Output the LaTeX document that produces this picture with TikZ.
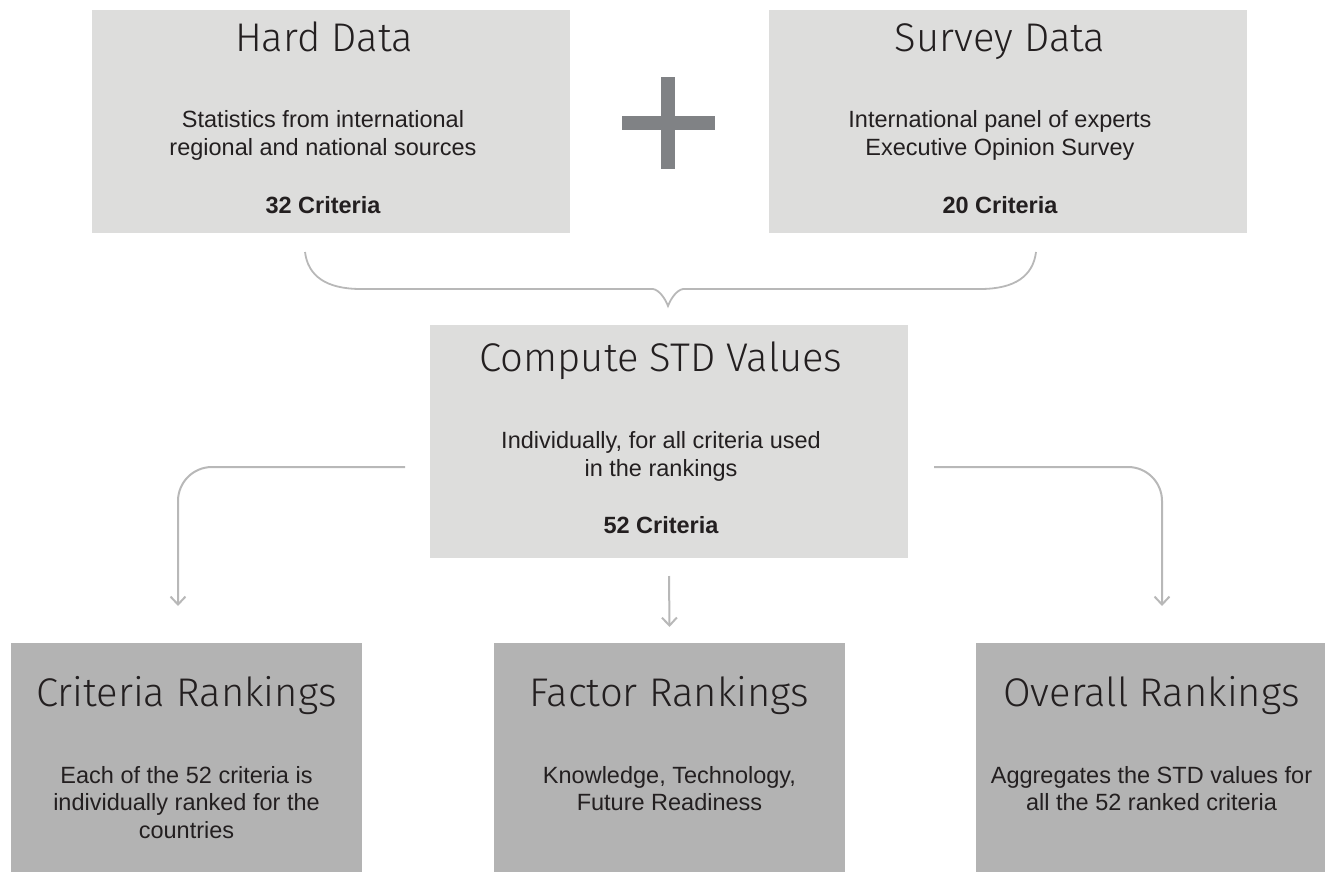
\documentclass[tikz,border=0pt]{standalone}
\usepackage{fontspec}
\setmainfont{Liberation Sans}
\newfontfamily\titlefont{Fira Sans Light}
\usetikzlibrary{arrows.meta}
\definecolor{boxlight}{HTML}{DDDDDC}
\definecolor{boxdark}{HTML}{B3B3B3}
\definecolor{plusgray}{HTML}{808285}
\definecolor{linegray}{HTML}{B8B8B8}
\definecolor{txt}{HTML}{231F20}
\tikzset{
  box/.style={fill=#1, draw=none, inner sep=0pt, outer sep=0pt},
  ttl/.style={anchor=base, inner sep=0pt, text=txt, font=\titlefont\fontsize{40}{48}\selectfont},
  bdy/.style={anchor=base, inner sep=0pt, text=txt, font=\fontsize{23.5}{28}\selectfont},
  bld/.style={anchor=base, inner sep=0pt, text=txt, font=\fontsize{23.5}{28}\selectfont\bfseries},
  conn/.style={draw=linegray, line width=2pt},
  arr/.style={conn, -{Straight Barb[length=8pt,width=15pt]}},
}
\begin{document}
\begin{tikzpicture}[x=1pt,y=-1pt]
\useasboundingbox (0,0) rectangle (1325,872);
% boxes
\node[box=boxlight, minimum width=478pt, minimum height=223pt] (hard) at (331,121.5) {};
\node[box=boxlight, minimum width=478pt, minimum height=223pt] (survey) at (1008,121.5) {};
\node[box=boxlight, minimum width=478pt, minimum height=233pt] (std) at (669,441.5) {};
\node[box=boxdark, minimum width=351pt, minimum height=229pt] (crit) at (186.5,757.5) {};
\node[box=boxdark, minimum width=351pt, minimum height=229pt] (factor) at (669.5,757.5) {};
\node[box=boxdark, minimum width=349pt, minimum height=229pt] (overall) at (1150.5,757.5) {};
% plus sign
\fill[plusgray] (622,116) rectangle (715,130);
\fill[plusgray] (661,77) rectangle (675,169);
% texts: Hard Data
\node[ttl] (hardT) at (324,52) {Hard Data};
\node[bdy] (hardB1) at (323,128) {Statistics from international};
\node[bdy] (hardB2) at (323,156) {regional and national sources};
\node[bld] (hardC) at (323,213) {32 Criteria};
% Survey Data
\node[ttl] (survT) at (1000,52) {Survey Data};
\node[bdy] (survB1) at (1000,128) {International panel of experts};
\node[bdy] (survB2) at (1000,156) {Executive Opinion Survey};
\node[bld] (survC) at (1000,213) {20 Criteria};
% Compute STD
\node[ttl] (stdT) at (661,371) {Compute STD Values};
\node[bdy] (stdB1) at (661,448) {Individually, for all criteria used};
\node[bdy] (stdB2) at (661,476) {in the rankings};
\node[bld] (stdC) at (661,533) {52 Criteria};
% Criteria Rankings
\node[ttl] (critT) at (186.5,706) {Criteria Rankings};
\node[bdy] (critB1) at (186.5,783) {Each of the 52 criteria is};
\node[bdy] (critB2) at (186.5,810) {individually ranked for the};
\node[bdy] (critB3) at (186.5,838) {countries};
% Factor Rankings
\node[ttl] (facT) at (669.5,706) {Factor Rankings};
\node[bdy] (facB1) at (669.5,783) {Knowledge, Technology,};
\node[bdy] (facB2) at (669.5,810) {Future Readiness};
% Overall Rankings
\node[ttl] (ovT) at (1151.5,706) {Overall Rankings};
\node[bdy] (ovB1) at (1151.5,783) {Aggregates the STD values for};
\node[bdy] (ovB2) at (1151.5,810) {all the 52 ranked criteria};
% brace
\coordinate (brL) at (305,252);
\coordinate (brR) at (1036,252);
\coordinate (brTip) at (668,306);
\draw[conn, line width=1.8pt] (brL) .. controls (308,276) and (326,289) .. (361,289)
  -- (653,289) .. controls (659,290) and (665,298) .. (brTip)
  .. controls (671,298) and (677,290) .. (683,289)
  -- (980,289) .. controls (1015,289) and (1033,276) .. (brR);
% arrows
\draw[arr, rounded corners=34pt] ([xshift=-25pt,yshift=-25.5pt]std.west) -| ([xshift=-8.5pt,yshift=37pt]crit.north);
\draw[arr, rounded corners=34pt] ([xshift=26pt,yshift=-25.5pt]std.east) -| ([xshift=11.5pt,yshift=37pt]overall.north);
\draw[arr] ([yshift=-18pt]std.south) -- ([yshift=16pt]factor.north);
\end{tikzpicture}
\end{document}
